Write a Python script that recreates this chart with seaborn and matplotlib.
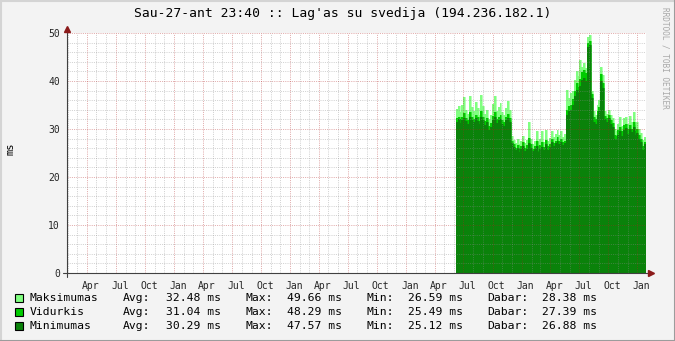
import numpy as np
import pandas as pd
import matplotlib
matplotlib.use("Agg")
import matplotlib.pyplot as plt
import matplotlib.dates as mdates
from matplotlib.ticker import MultipleLocator
from matplotlib.transforms import ScaledTranslation
from matplotlib.lines import Line2D
from matplotlib.patches import Rectangle
import seaborn as sns

# ---------------- data ----------------
title = "Sau-27-ant 23:40 :: Lag'as su svedija (194.236.182.1)"
y_unit = "ms"
watermark = "RRDTOOL / TOBI OETIKER"
period_start = "1999-01-27 23:40"
period_end = "2004-01-27 23:40"
data_start = "2002-06-06 23:40"
step_days = 6

series_names = ["Maksimumas", "Vidurkis", "Minimumas"]
series_colors = ["#80FF80", "#00CC00", "#0A820A"]

max_ms = [34.2, 34.8, 33.6, 35.0, 36.7, 34.0, 33.2, 36.9, 34.5, 33.8,
          35.6, 34.4, 33.0, 37.0, 34.8, 33.2, 34.0, 32.0, 33.0, 35.2,
          36.8, 33.8, 34.6, 35.4, 33.6, 33.0, 34.4, 35.8, 34.0,
          28.5, 27.8, 27.0, 27.9, 26.8, 27.6, 28.6, 27.1, 27.8, 31.4,
          28.0, 26.9, 27.6, 29.6, 26.59, 27.9, 29.5, 27.3, 29.8, 27.6,
          28.2, 29.6, 28.4, 29.0, 29.8, 28.7, 29.5, 28.4, 29.0,
          38.2, 36.5, 37.6, 38.0, 40.3, 42.0, 41.0, 44.4, 43.0, 43.8,
          42.8, 49.2, 49.66,
          38.0, 33.8, 33.0, 35.0, 36.0, 43.0, 41.2, 33.8, 33.2, 34.0,
          33.0, 32.2, 30.0, 29.6, 31.0, 32.4, 30.6, 32.2, 32.6, 31.0,
          32.8, 31.4, 33.6, 30.8, 31.4, 30.0, 29.2, 27.8, 28.38]

avg_ms = [32.3, 32.6, 32.0, 32.5, 33.4, 32.2, 31.8, 33.6, 32.5, 32.0,
          33.0, 32.4, 31.7, 33.8, 32.5, 31.6, 32.2, 30.6, 31.3, 32.8,
          33.5, 32.0, 32.6, 33.0, 31.8, 31.4, 32.5, 33.2, 32.2,
          27.6, 26.8, 26.1, 26.7, 25.9, 26.5, 27.3, 26.0, 26.6, 28.2,
          26.8, 25.9, 26.4, 27.4, 25.49, 26.6, 27.2, 26.2, 27.8, 26.4,
          26.9, 27.9, 27.1, 27.6, 28.3, 27.5, 28.0, 27.2, 27.6,
          34.0, 34.8, 35.0, 36.2, 38.0, 39.6, 38.8, 40.5, 41.8, 42.2,
          41.6, 48.0, 48.29,
          37.2, 32.5, 32.0, 33.8, 34.6, 41.5, 39.5, 32.8, 32.3, 33.0,
          31.8, 31.2, 28.8, 28.6, 29.8, 30.4, 29.5, 30.8, 31.0, 29.9,
          30.8, 30.1, 31.4, 29.6, 30.0, 28.8, 28.0, 26.4, 27.39]

min_ms = [31.5, 32.0, 31.2, 31.8, 32.3, 31.6, 31.0, 32.5, 31.9, 31.4,
          32.2, 31.7, 31.0, 32.4, 31.8, 30.8, 31.5, 29.8, 30.5, 31.9,
          32.6, 31.3, 31.8, 32.1, 31.0, 30.6, 31.8, 32.3, 31.5,
          27.0, 26.2, 25.6, 26.0, 25.3, 25.8, 26.4, 25.5, 25.9, 27.0,
          26.1, 25.4, 25.8, 26.5, 25.12, 25.9, 26.3, 25.6, 26.9, 25.7,
          26.3, 27.2, 26.5, 27.0, 27.6, 26.8, 27.3, 26.6, 27.0,
          33.0, 33.8, 34.0, 35.0, 36.8, 38.2, 37.5, 39.0, 40.2, 40.6,
          40.0, 47.0, 47.57,
          36.5, 31.5, 31.0, 33.0, 33.8, 40.0, 38.5, 32.0, 31.5, 32.3,
          31.0, 30.5, 28.0, 27.8, 28.8, 29.5, 28.6, 29.8, 30.2, 29.0,
          30.0, 29.3, 30.4, 28.7, 29.2, 28.0, 27.2, 25.6, 26.88]

legend_avg = ["32.48", "31.04", "30.29"]
legend_max = ["49.66", "48.29", "47.57"]
legend_min = ["26.59", "25.49", "25.12"]
legend_now = ["28.38", "27.39", "26.88"]

# ---------------- figure ----------------
sns.set_theme(style="white")
plt.rcParams["font.family"] = ["DejaVu Sans Mono"]
plt.rcParams["text.color"] = "black"

W, H = 675, 341
fig = plt.figure(figsize=(W / 100, H / 100), dpi=100, facecolor="#F3F3F3")
ax = fig.add_axes([67 / W, 1 - 273 / H, 579 / W, 240 / H])
ax.set_facecolor("white")

n = len(min_ms)
dates = pd.date_range(start=data_start, periods=n, freq=f"{step_days}D")
edges = dates.append(pd.DatetimeIndex([pd.Timestamp(period_end)]))

for k, (vals, col) in enumerate(zip([max_ms, avg_ms, min_ms], series_colors)):
    ext = list(vals) + [vals[-1]]
    ax.fill_between(edges, ext, 0, step="post", color=col, lw=0,
                    zorder=1.1 + 0.1 * k)
    df = pd.DataFrame({"t": edges, "v": ext})
    sns.lineplot(data=df, x="t", y="v", drawstyle="steps-post", color=col,
                 lw=0.4, ax=ax, legend=False, zorder=1.15 + 0.1 * k)

ax.set_xlim(pd.Timestamp(period_start), pd.Timestamp(period_end))
ax.set_ylim(0, 50)
ax.set_xlabel("")
ax.set_ylabel("")

ax.xaxis.set_major_locator(mdates.MonthLocator(bymonth=[1, 4, 7, 10]))
ax.xaxis.set_minor_locator(mdates.MonthLocator())
ax.xaxis.set_major_formatter(mdates.DateFormatter("%b"))
ax.yaxis.set_major_locator(MultipleLocator(10))
ax.yaxis.set_minor_locator(MultipleLocator(2))

ax.set_axisbelow(False)
ax.grid(which="minor", color="#8C8C8C", alpha=0.4, ls=(0, (1, 1.2)),
        lw=0.72)
ax.grid(which="major", color="#B02020", alpha=0.38, ls=(0, (1, 1.2)),
        lw=0.72)

for s in ax.spines.values():
    s.set_visible(False)

ax.tick_params(which="major", length=2.5, width=0.7, color="#B03030",
               labelsize=7, pad=2.5, direction="out")
ax.tick_params(which="minor", length=1.6, width=0.7, color="#808080",
               direction="out")
ax.tick_params(axis="x", which="major", pad=3)

# axis lines and arrows
axis_col = "#404040"
arrow_col = "#8B1A1A"
ax.add_line(Line2D([-0.007, 1.004], [0, 0], transform=ax.transAxes,
                   color=axis_col, lw=0.8, clip_on=False, zorder=5))
ax.add_line(Line2D([0, 0], [-0.017, 1.012], transform=ax.transAxes,
                   color=axis_col, lw=0.8, clip_on=False, zorder=5))
ax.plot([1.008], [0], marker=">", ms=4.5, color=arrow_col,
        transform=ax.transAxes, clip_on=False, zorder=6, mec=arrow_col)
ax.plot([0], [1.018], marker="^", ms=4.5, color=arrow_col,
        transform=ax.transAxes, clip_on=False, zorder=6, mec=arrow_col)

# title, unit, watermark
fig.text(343 / W, 1 - 14 / H, title, ha="center", va="center", fontsize=9.4)
fig.text(10.5 / W, 1 - 149 / H, y_unit, rotation=90, ha="center",
         va="center", fontsize=7.5)
fig.text(665 / W, 1 - 58 / H, watermark, rotation=270, ha="center",
         va="center", fontsize=5.6, color="#A8A8A8")

# legend rows
for r, (name, col) in enumerate(zip(series_names, series_colors)):
    yc = 298 + 14 * r
    fig.patches.append(Rectangle((15 / W, 1 - (yc + 4) / H), 8 / W, 8 / H,
                                 transform=fig.transFigure, facecolor=col,
                                 edgecolor="black", lw=0.8))
    pieces = [(30, name), (123, "Avg:"), (166, legend_avg[r] + " ms"),
              (245, "Max:"), (287, legend_max[r] + " ms"),
              (366, "Min:"), (408, legend_min[r] + " ms"),
              (487, "Dabar:"), (542, legend_now[r] + " ms")]
    for xp, txt in pieces:
        fig.text(xp / W, 1 - yc / H, txt, ha="left", va="center",
                 fontsize=8.2)

# 3D border
fig.add_artist(Line2D([0, 1], [1 - 0.5 / H, 1 - 0.5 / H],
                      transform=fig.transFigure, color="#D4D4D4", lw=1.5))
fig.add_artist(Line2D([0.5 / W, 0.5 / W], [0, 1],
                      transform=fig.transFigure, color="#D4D4D4", lw=1.5))
fig.add_artist(Line2D([0, 1], [0.5 / H, 0.5 / H],
                      transform=fig.transFigure, color="#9C9C9C", lw=1.5))
fig.add_artist(Line2D([1 - 0.5 / W, 1 - 0.5 / W], [0, 1],
                      transform=fig.transFigure, color="#9C9C9C", lw=1.5))

# shift month labels slightly right like the reference
fig.canvas.draw()
off = ScaledTranslation(4 / 100, 0, fig.dpi_scale_trans)
for tick in ax.xaxis.get_major_ticks():
    tick.label1.set_transform(tick.label1.get_transform() + off)

fig.savefig("out.png", dpi=100, facecolor=fig.get_facecolor())
